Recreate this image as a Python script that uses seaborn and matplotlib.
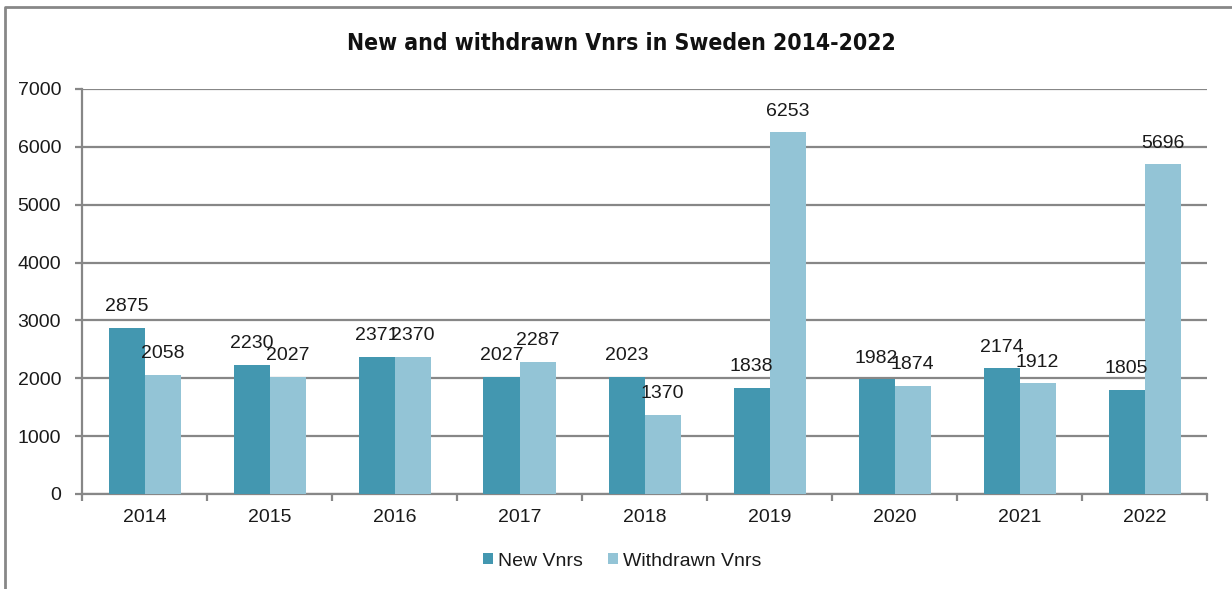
import matplotlib
matplotlib.use("Agg")
import matplotlib.pyplot as plt
import seaborn as sns
import pandas as pd
from matplotlib.patches import Rectangle
from matplotlib.lines import Line2D

years = ["2014", "2015", "2016", "2017", "2018", "2019", "2020", "2021", "2022"]
new_vnrs = [2875, 2230, 2371, 2027, 2023, 1838, 1982, 2174, 1805]
withdrawn_vnrs = [2058, 2027, 2370, 2287, 1370, 6253, 1874, 1912, 5696]
series_names = ["New Vnrs", "Withdrawn Vnrs"]
colors = ["#4397B0", "#93C4D6"]

df = pd.DataFrame({
    "year": years * 2,
    "value": new_vnrs + withdrawn_vnrs,
    "series": [series_names[0]] * len(years) + [series_names[1]] * len(years),
})

sns.set_style("white")
plt.rcParams["font.family"] = ["Liberation Sans", "DejaVu Sans"]

fig = plt.figure(figsize=(12.32, 5.89), dpi=100)
ax = fig.add_axes([82/1232, 1-494/589, (1207-82)/1232, (494-89)/589])

sns.barplot(data=df, x="year", y="value", hue="series", palette=colors,
            saturation=1, width=0.576, gap=0, ax=ax, legend=False, zorder=3,
            linewidth=0, edgecolor="none")

ax.set_ylim(0, 7000)
ax.set_xlim(-0.5, len(years) - 0.5)
ax.set_yticks(range(0, 7001, 1000))
ax.yaxis.grid(True, color="#878787", linewidth=1.6, zorder=0)
ax.set_axisbelow(True)
ax.set_xlabel("")
ax.set_ylabel("")

for s in ["top", "right"]:
    ax.spines[s].set_visible(False)
for s in ["left", "bottom"]:
    ax.spines[s].set_color("#878787")
    ax.spines[s].set_linewidth(1.6)

fs = 14
ax.tick_params(axis="y", which="major", length=5, width=1.6, color="#878787",
               labelsize=fs, labelcolor="#1a1a1a", pad=10, left=True)
ax.tick_params(axis="x", which="major", length=0, labelsize=fs,
               labelcolor="#1a1a1a", pad=11)
ax.set_xticks([i - 0.5 for i in range(len(years) + 1)], minor=True)
ax.tick_params(axis="x", which="minor", length=5, width=1.6, color="#878787", bottom=True)

for cont in ax.containers:
    for bar in cont:
        h = bar.get_height()
        ax.annotate(f"{int(round(h))}", (bar.get_x() + bar.get_width() / 2, h),
                    xytext=(0, 9), textcoords="offset points", ha="center",
                    va="bottom", fontsize=fs, color="#1a1a1a", zorder=5)

fig.text(621/1232, 1-43/589, "New and withdrawn Vnrs in Sweden 2014-2022",
         ha="center", va="center", fontsize=16.5, fontweight="bold",
         fontstretch="condensed", color="#111111",
         family=["DejaVu Sans"])

handles = [Rectangle((0, 0), 1, 1, facecolor=c, edgecolor="none") for c in colors]
fig.legend(handles, series_names, loc="center", bbox_to_anchor=(622/1232, 1-561/589),
           ncol=2, frameon=False, fontsize=fs, handlelength=0.52, handleheight=0.52,
           handletextpad=0.25, columnspacing=1.3, labelcolor="#1a1a1a")

frame = Line2D([5/1232, 5/1232, 1.0], [0.0, 1-7/589, 1-7/589],
               transform=fig.transFigure, color="#878787", linewidth=2)
fig.add_artist(frame)

fig.savefig("out.png", dpi=100)
